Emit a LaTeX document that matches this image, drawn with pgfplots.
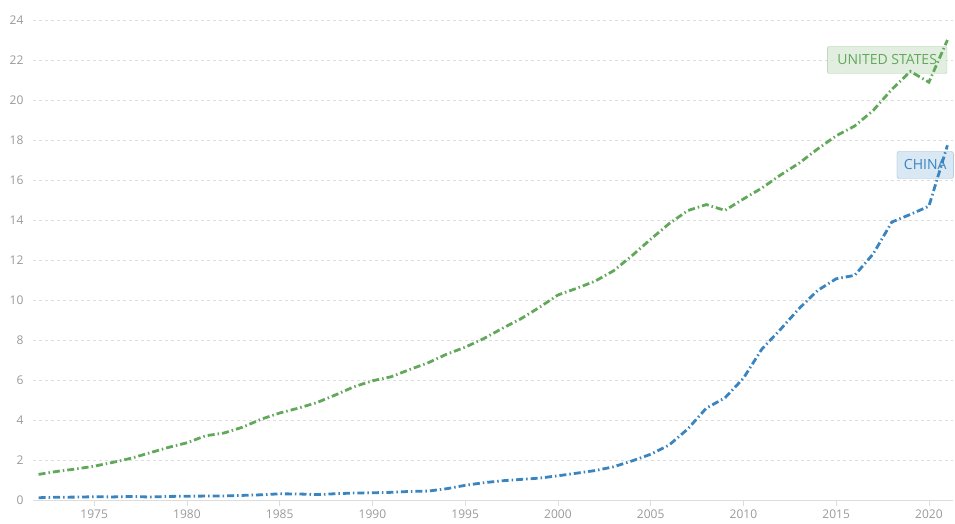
\documentclass[border=0pt]{standalone}
\usepackage{pgfplots}
\pgfplotsset{compat=1.18}
\usepackage{fontspec}
\setmainfont{Open Sans}
\definecolor{usgreen}{HTML}{62A85A}
\definecolor{cnblue}{HTML}{3A84C0}
\definecolor{tickgray}{HTML}{9A9A9A}
\definecolor{gridgray}{HTML}{DDDDDD}
\begin{document}
\begin{tikzpicture}
\useasboundingbox (-33pt,-24pt) rectangle (922pt,500pt);
\begin{axis}[
  at={(0,0)}, anchor=south west,
  scale only axis, width=920pt, height=480pt,
  xmin=1971.7, xmax=2021.3, ymin=0, ymax=24,
  xtick={1975,1980,...,2020}, ytick={0,2,...,24},
  /pgf/number format/assume math mode=true,
  xticklabel style={/pgf/number format/1000 sep={}, font=\fontsize{12}{14}\selectfont, text=tickgray},
  yticklabel style={font=\fontsize{12}{14}\selectfont, text=tickgray},
  axis x line*=bottom, axis y line*=left,
  x axis line style={draw=gridgray, line width=1pt, -},
  y axis line style={draw=none},
  ytick style={draw=none},
  xtick style={draw=gridgray, line width=0.8pt},
  tick align=outside, major tick length=6pt,
  ymajorgrids, grid style={dashed, gridgray, line width=0.8pt},
  clip=false,
]
\node[draw=usgreen!55, fill=usgreen!25, fill opacity=0.75, text opacity=1, text=usgreen, rounded corners=2pt,
  font=\fontsize{14}{16}\selectfont, inner xsep=10pt, minimum height=27pt] at (axis cs:2017.75,22.0) {UNITED STATES};
\node[draw=cnblue!55, fill=cnblue!25, fill opacity=0.75, text opacity=1, text=cnblue, rounded corners=2pt,
  font=\fontsize{14}{16}\selectfont, inner xsep=7pt, minimum height=27pt] at (axis cs:2019.8,16.75) {CHINA};
\addplot[usgreen, line width=2.8pt, dash pattern=on 7pt off 3pt on 1.5pt off 3pt] coordinates {
(1972,1.28)(1973,1.43)(1974,1.55)(1975,1.69)(1976,1.88)(1977,2.09)(1978,2.36)(1979,2.63)(1980,2.86)(1981,3.21)
(1982,3.35)(1983,3.64)(1984,4.04)(1985,4.35)(1986,4.59)(1987,4.87)(1988,5.25)(1989,5.66)(1990,5.96)(1991,6.16)
(1992,6.52)(1993,6.86)(1994,7.29)(1995,7.64)(1996,8.07)(1997,8.58)(1998,9.06)(1999,9.63)(2000,10.25)(2001,10.58)
(2002,10.94)(2003,11.46)(2004,12.22)(2005,13.04)(2006,13.82)(2007,14.47)(2008,14.77)(2009,14.48)(2010,15.05)(2011,15.60)
(2012,16.25)(2013,16.84)(2014,17.55)(2015,18.21)(2016,18.70)(2017,19.48)(2018,20.53)(2019,21.43)(2020,20.89)(2021,23.00)
};
\addplot[cnblue, line width=2.8pt, dash pattern=on 7pt off 3pt on 1.5pt off 3pt] coordinates {
(1972,0.114)(1973,0.139)(1974,0.144)(1975,0.163)(1976,0.154)(1977,0.175)(1978,0.150)(1979,0.178)(1980,0.191)(1981,0.196)
(1982,0.205)(1983,0.230)(1984,0.260)(1985,0.309)(1986,0.301)(1987,0.273)(1988,0.312)(1989,0.348)(1990,0.361)(1991,0.383)
(1992,0.427)(1993,0.445)(1994,0.564)(1995,0.734)(1996,0.864)(1997,0.962)(1998,1.029)(1999,1.094)(2000,1.211)(2001,1.339)
(2002,1.471)(2003,1.660)(2004,1.955)(2005,2.286)(2006,2.752)(2007,3.550)(2008,4.594)(2009,5.102)(2010,6.087)(2011,7.552)
(2012,8.532)(2013,9.570)(2014,10.476)(2015,11.062)(2016,11.233)(2017,12.310)(2018,13.895)(2019,14.280)(2020,14.688)(2021,17.734)
};
\end{axis}
\end{tikzpicture}
\end{document}
